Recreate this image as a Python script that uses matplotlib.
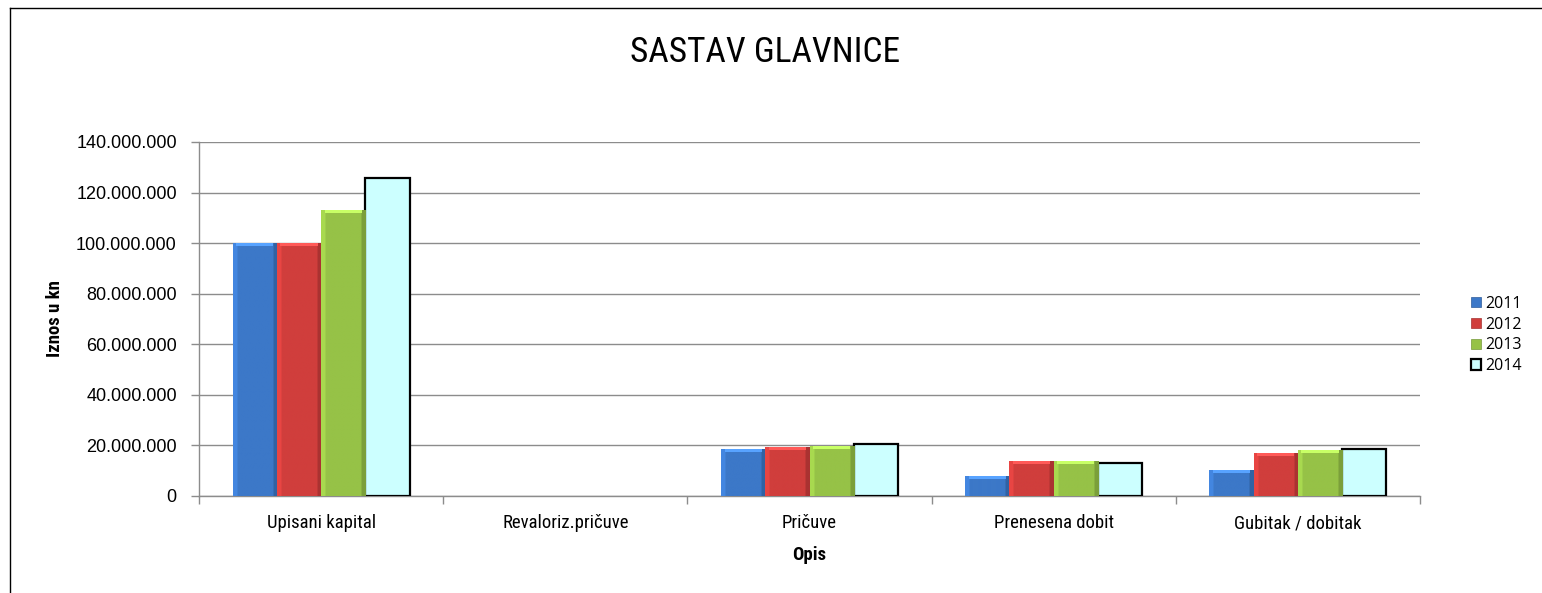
import matplotlib
matplotlib.use("Agg")
import matplotlib.pyplot as plt
from matplotlib import font_manager as fm
from matplotlib.font_manager import FontProperties
from matplotlib.ticker import FuncFormatter, FixedLocator
from matplotlib.lines import Line2D
from matplotlib.colors import to_rgb
import numpy as np

categories = ["Upisani kapital", "Revaloriz.pričuve", "Pričuve", "Prenesena dobit", "Gubitak / dobitak"]
years = ["2011", "2012", "2013", "2014"]
v2011 = [100_000_000, 0, 18_500_000, 7_900_000, 10_300_000]
v2012 = [100_000_000, 0, 19_300_000, 13_800_000, 16_900_000]
v2013 = [113_000_000, 0, 19_800_000, 13_800_000, 18_100_000]
v2014 = [125_700_000, 0, 20_700_000, 13_100_000, 18_500_000]
series = [v2011, v2012, v2013, v2014]

face = ["#3C78C8", "#D03E3C", "#96C247", "#CCFFFF"]
edge = ["#2E5C9A", "#A53230", "#76993A", "#000000"]
lw = [0.5, 0.5, 0.5, 1.6]


def find_narrow(bold=False):
    prefs = ["Liberation Sans Narrow", "Arial Narrow", "Roboto Condensed",
             "Open Sans Condensed", "DejaVu Sans Condensed", "Noto Sans Condensed"]
    entries = fm.fontManager.ttflist
    def is_bold(f):
        w = f.weight if isinstance(f.weight, int) else {"bold": 700}.get(f.weight, 400)
        return w >= 600
    def ok(f):
        s = (f.name + " " + f.fname).lower()
        return ("narrow" in s or "condensed" in s or str(f.stretch) in ("condensed", "semi-condensed")) \
            and "italic" not in s and "oblique" not in s and f.style == "normal"
    cands = [f for f in entries if ok(f) and is_bold(f) == bold]
    for p in prefs:
        for f in cands:
            if p.lower().replace(" ", "") in (f.name + f.fname).lower().replace(" ", "").replace("-", "").replace("_", ""):
                return FontProperties(fname=f.fname)
    if cands:
        return FontProperties(fname=cands[0].fname)
    return None


nar = find_narrow(False)
narb = find_narrow(True)
if nar is None:
    nar = FontProperties(family=["Liberation Sans", "DejaVu Sans"])
    cat_size, title_size = 12, 23
else:
    cat_size, title_size = 13.5, 25.5
if narb is None:
    narb = FontProperties(family=["Liberation Sans", "DejaVu Sans"], weight="bold")
    lab_size = 12
else:
    lab_size = 13.5

fig = plt.figure(figsize=(15.42, 5.93), dpi=100)
ax = fig.add_axes([199/1542, 1-496/593, (1420-199)/1542, (496-142)/593])

x = np.arange(len(categories))
w = 0.181
for i, (vals, fc, ec, l) in enumerate(zip(series, face, edge, lw)):
    bars = ax.bar(x + (i - 1.5) * w, vals, width=w, color=fc, edgecolor=ec, linewidth=l,
                  label=years[i], zorder=3)
    for b, v in zip(bars, vals):
        if v == 0:
            b.set_linewidth(0)
            continue
        if i < 3:
            base = np.array(to_rgb(fc))
            nx, ny = 40, 200
            u = np.linspace(0, 1, nx)
            prof = np.ones(nx)
            prof[u < 0.08] = 1.12
            prof[u > 0.9] = 0.82
            img = np.clip(base[None, None, :] * prof[None, :, None] * np.ones((ny, 1, 1)), 0, 1)
            x0, y0 = b.get_x(), b.get_y()
            im = ax.imshow(img, extent=(x0, x0 + b.get_width(), y0, y0 + b.get_height()),
                           aspect="auto", origin="lower", zorder=3.5, interpolation="bilinear")
            im.set_clip_path(b)
            bh = 1_200_000
            light = np.clip(base * 1.25 + 0.05, 0, 1)
            ax.fill_between([x0 + b.get_width() * 0.08, x0 + b.get_width() * 0.92],
                            y0 + b.get_height() - bh, y0 + b.get_height(),
                            color=light, zorder=3.6, linewidth=0)

ax.set_xlim(-0.5, len(categories) - 0.5)
ax.set_ylim(0, 140_000_000)
ax.yaxis.set_major_locator(FixedLocator(np.arange(0, 140_000_001, 20_000_000)))
ax.yaxis.set_major_formatter(FuncFormatter(lambda v, p: f"{int(v):,}".replace(",", ".")))
ax.grid(axis="y", color="#8c8c8c", linewidth=1.0, zorder=0)
ax.set_axisbelow(True)

ax.set_xticks(x)
ax.set_xticklabels(categories)
for t in ax.get_xticklabels():
    t.set_fontproperties(nar)
    t.set_fontsize(cat_size)
ax.xaxis.set_minor_locator(FixedLocator(np.arange(-0.5, len(categories), 1.0)))
ax.tick_params(axis="x", which="major", length=0, pad=13)
ax.tick_params(axis="x", which="minor", length=6, color="#8c8c8c", width=1)
ax.tick_params(axis="y", length=6, color="#8c8c8c", width=1, pad=10, labelsize=13)
for t in ax.get_yticklabels():
    t.set_family(["Liberation Sans", "DejaVu Sans"])

for s in ["top", "right"]:
    ax.spines[s].set_visible(False)
for s in ["left", "bottom"]:
    ax.spines[s].set_color("#8c8c8c")
    ax.spines[s].set_linewidth(1.0)

ax.set_xlabel("Opis", fontproperties=narb, fontsize=lab_size, labelpad=10)
ax.set_ylabel("Iznos u kn", fontproperties=narb, fontsize=lab_size)
ax.yaxis.set_label_coords(-(199 - 64) / 1221, 0.5)

fig.text(765/1542, 1-53/593, "SASTAV GLAVNICE", ha="center", va="center",
         fontproperties=nar, fontsize=title_size)

leg = ax.legend(loc="center left", bbox_to_anchor=(1463/1542, 1-335/593),
                bbox_transform=fig.transFigure, frameon=False,
                prop={"family": ["Open Sans", "DejaVu Sans"], "size": 11.5},
                handlelength=0.6, handleheight=0.6, handletextpad=0.3,
                labelspacing=0.3, borderpad=0)

fig.add_artist(Line2D([10/1542, 10/1542], [0, 1-8/593], transform=fig.transFigure,
                      color="black", linewidth=1))
fig.add_artist(Line2D([10/1542, 1], [1-8/593, 1-8/593], transform=fig.transFigure,
                      color="black", linewidth=1))

fig.savefig("out.png", dpi=100)
